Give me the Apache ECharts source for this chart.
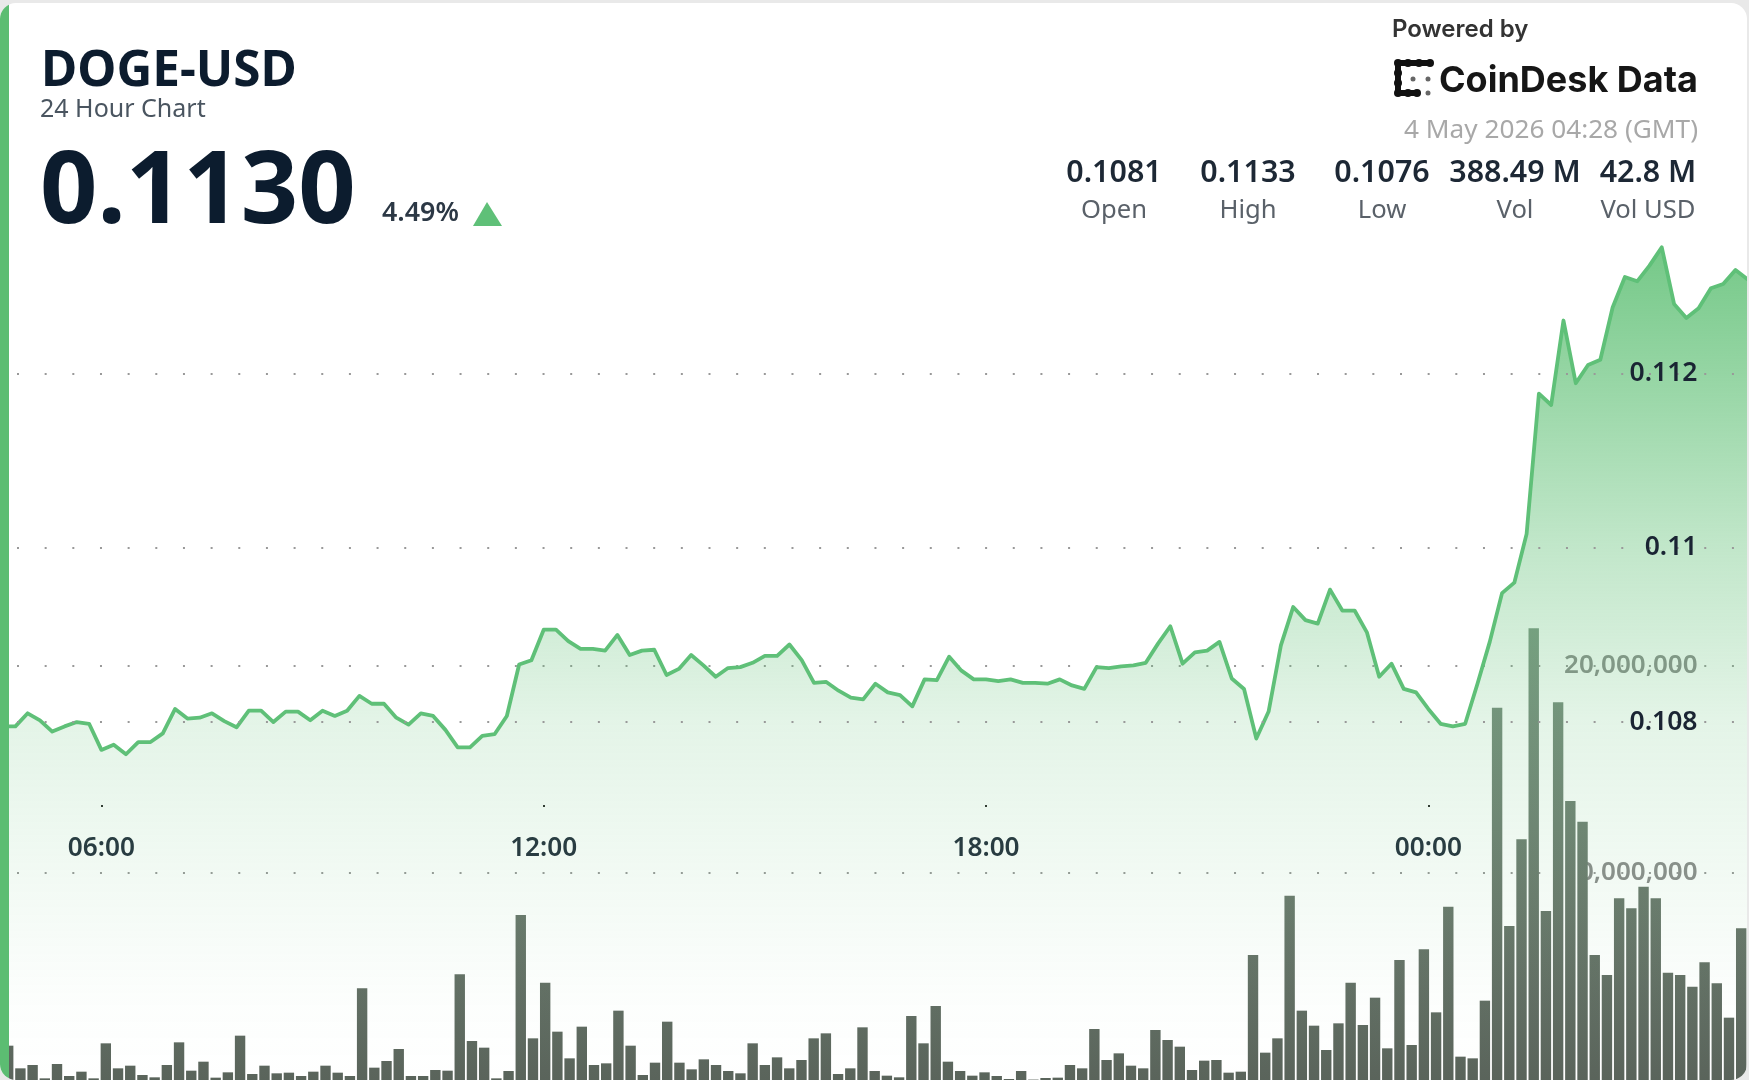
<!DOCTYPE html>
<html>
<head>
<meta charset="utf-8">
<style>
  html, body { margin: 0; height: 100%; background: #e9e9e9; overflow: hidden; }
  #card { position: absolute; left: 0; top: 3px; width: 1747px; height: 1077px; background: #fff;
          border-radius: 16px; overflow: hidden; }
  #chart { position: absolute; left: 0; top: -3px; width: 1749px; height: 1080px; }
</style>
</head>
<body>
<div id="card"><div id="chart"></div></div>
<script src="https://cdn.jsdelivr.net/npm/echarts@6/dist/echarts.min.js"></script>
<script>
// price every 10 minutes, first point is 04:40 of the previous day
const firstMinute = 280;
const priceValues = [
  0.10795, 0.10795, 0.10810, 0.10802, 0.10789, 0.10795, 0.10800, 0.10798, 0.10768, 0.10774, 0.10763, 0.10777,
  0.10777, 0.10787, 0.10815, 0.10804, 0.10805, 0.10810, 0.10801, 0.10794, 0.10813, 0.10813, 0.10800, 0.10812,
  0.10812, 0.10802, 0.10813, 0.10807, 0.10813, 0.10830, 0.10821, 0.10821, 0.10805, 0.10797, 0.10810, 0.10807,
  0.10791, 0.10771, 0.10771, 0.10784, 0.10786, 0.10807, 0.10866, 0.10871, 0.10906, 0.10906, 0.10893, 0.10884,
  0.10884, 0.10882, 0.10900, 0.10877, 0.10882, 0.10883, 0.10854, 0.10861, 0.10877, 0.10865, 0.10852, 0.10862,
  0.10863, 0.10868, 0.10876, 0.10876, 0.10889, 0.10871, 0.10845, 0.10846, 0.10836, 0.10828, 0.10826, 0.10844,
  0.10834, 0.10831, 0.10818, 0.10849, 0.10848, 0.10875, 0.10859, 0.10849, 0.10849, 0.10847, 0.10849, 0.10845,
  0.10845, 0.10844, 0.10849, 0.10842, 0.10838, 0.10863, 0.10862, 0.10864, 0.10865, 0.10868, 0.10890, 0.10910,
  0.10867, 0.10880, 0.10882, 0.10892, 0.10850, 0.10838, 0.10781, 0.10812, 0.10888, 0.10932, 0.10917, 0.10913,
  0.10952, 0.10928, 0.10928, 0.10903, 0.10852, 0.10867, 0.10838, 0.10834, 0.10815, 0.10798, 0.10795, 0.10798,
  0.10844, 0.10892, 0.10948, 0.10960, 0.11016, 0.11177, 0.11164, 0.11261, 0.11189, 0.11210, 0.11216, 0.11276,
  0.11311, 0.11306, 0.11324, 0.11345, 0.11280, 0.11264, 0.11275, 0.11298, 0.11303, 0.11319, 0.11308, 0.11300
];
// volume per bar, millions
const volumeValues = [
  1.656, 0.563, 0.724, 0.080, 0.772, 0.193, 0.402, 0.080, 1.769, 0.563, 0.691, 0.241, 0.129, 0.724, 1.817,
  0.450, 0.884, 0.113, 0.370, 2.139, 0.289, 0.691, 0.322, 0.354, 0.193, 0.402, 0.691, 0.354, 0.193, 4.422,
  0.595, 0.917, 1.495, 0.193, 0.193, 0.482, 0.450, 5.097, 1.881, 1.560, 0.080, 0.434, 7.960, 2.010, 4.695,
  2.332, 1.045, 2.573, 0.724, 0.804, 3.345, 1.656, 0.241, 0.836, 2.814, 0.836, 0.515, 0.997, 0.724, 0.434,
  0.322, 1.769, 0.724, 1.093, 0.563, 0.965, 2.010, 2.251, 0.289, 0.563, 2.541, 0.434, 0.209, 0.129, 3.087,
  1.769, 3.570, 0.884, 0.434, 0.209, 0.370, 0.193, 0.048, 0.434, 0.020, 0.096, 0.113, 0.724, 0.563, 2.460,
  0.965, 1.286, 0.691, 0.563, 2.412, 1.930, 1.608, 0.482, 0.933, 0.965, 0.354, 0.402, 6.030, 1.319, 2.010,
  8.892, 3.345, 2.621, 1.447, 2.734, 4.695, 2.653, 3.972, 1.528, 5.789, 1.688, 6.303, 3.264, 8.362, 1.126,
  1.045, 3.827, 17.961, 7.429, 11.610, 21.788, 8.153, 18.219, 13.459, 12.462, 6.030, 5.065, 8.764, 8.281,
  9.326, 8.764, 5.178, 5.065, 4.502, 5.676, 4.663, 3.007, 7.316
];
const priceTicks = [0.108, 0.11, 0.112];
const volumeTicks = [10000000, 20000000];
const timeTicks = [360, 720, 1080, 1440];
const statValues = ['0.1081', '0.1133', '0.1076', '388.49 M', '42.8 M'];
const statLabels = ['Open', 'High', 'Low', 'Vol', 'Vol USD'];
const statCenters = [1114, 1248, 1382, 1515, 1648];

const FONT = '"Noto Sans", "Open Sans", sans-serif';
const GREEN = '#5fc078';
const INK = '#0c1c2e';

const hhmm = (m) => {
  const h = Math.floor(m / 60) % 24;
  const mm = m % 60;
  return String(h).padStart(2, '0') + ':' + String(mm).padStart(2, '0');
};

const text = (x, y, str, size, weight, fill, align) => ({
  type: 'text',
  x: x,
  y: y,
  silent: true,
  style: { text: str, font: weight + ' ' + size + 'px ' + FONT, fill: fill, align: align || 'left', verticalAlign: 'middle' },
});

const dot = (x, y, r, fill) => ({ type: 'circle', shape: { cx: x, cy: y, r: r }, style: { fill: fill } });

// header, drawn on top of the plot
const header = [
  { type: 'rect', shape: { x: 0, y: 0, width: 9, height: 1080 }, style: { fill: '#5cbd72' }, z: 20 },
  text(41, 72, 'DOGE-USD', 49.5, 700, INK),
  text(40, 110, '24 Hour Chart', 25, 400, '#4a5560'),
  text(40, 194, '0.1130', 100.5, 700, INK),
  text(382, 213, '4.49%', 26.8, 600, '#2c3845'),
  { type: 'polygon', shape: { points: [[487, 202], [473, 226], [502, 226]] }, style: { fill: GREEN } },
  { type: 'text', x: 1392, y: 30, style: { text: 'Powered by', font: '600 24px Inter, sans-serif', fill: '#333', verticalAlign: 'middle' } },
  { type: 'text', x: 1698, y: 81, style: { text: 'CoinDesk Data', font: '700 36px Inter, sans-serif', fill: '#161616', align: 'right', verticalAlign: 'middle' } },
  // logo mark
  { type: 'rect', shape: { x: 1395, y: 62, width: 6, height: 32 }, style: { fill: '#111' } },
  { type: 'rect', shape: { x: 1395, y: 60, width: 35, height: 6 }, style: { fill: '#111' } },
  { type: 'rect', shape: { x: 1395, y: 90, width: 22, height: 6 }, style: { fill: '#111' } },
  dot(1398, 63, 4, '#111'), dot(1408, 63, 4, '#111'), dot(1419, 63, 4, '#111'), dot(1430, 63, 4, '#111'),
  dot(1398, 73, 4, '#111'), dot(1398, 83, 4, '#111'), dot(1398, 93, 4, '#111'),
  dot(1408, 93, 4, '#111'), dot(1417, 93, 4, '#111'),
  dot(1413, 79, 2.5, '#666'), dot(1428, 79, 2.5, '#666'), dot(1428, 93, 2.5, '#666'),
  text(1698, 131, '4 May 2026 04:28 (GMT)', 26.2, 400, '#a8a8a8', 'right'),
];
statValues.forEach((v, i) => {
  header.push(text(statCenters[i], 173, v, 30.4, 600, '#1d2835', 'center'));
  header.push(text(statCenters[i], 211, statLabels[i], 25.6, 400, '#5a6169', 'center'));
});

const chart = echarts.init(document.getElementById('chart'), null, { renderer: 'canvas' });

chart.setOption({
  animation: false,
  backgroundColor: 'transparent',
  grid: { left: 9, right: 0, top: 0, bottom: 0 },
  xAxis: [
    {
      // time axis of the price line, in minutes
      type: 'value',
      min: 284.8,
      max: 1701,
      offset: -275,
      splitLine: { show: false },
      axisLine: { show: false },
      axisTick: { show: true, length: 2, customValues: timeTicks, lineStyle: { color: '#2a2a2a', width: 2 } },
      axisLabel: {
        customValues: timeTicks,
        formatter: (v) => hhmm(v),
        margin: 31,
        fontFamily: FONT,
        fontSize: 26.2,
        fontWeight: 600,
        color: '#232e3c',
      },
    },
    {
      // bar slots, they run a little tighter than the time scale
      type: 'value',
      show: false,
      min: 0.066,
      max: 142.64,
      splitLine: { show: false },
    },
  ],
  yAxis: [
    {
      type: 'value',
      position: 'right',
      min: 0.10389,
      max: 0.11629,
      z: 5,
      axisLine: { show: false },
      axisTick: { show: false, customValues: priceTicks },
      splitLine: { show: true, lineStyle: { color: '#999', width: 2, type: [2, 25.66], dashOffset: 19.66 } },
      axisLabel: {
        inside: true,
        margin: 51.5,
        padding: [8, 0, 0, 0],
        customValues: priceTicks,
        formatter: (v) => String(v),
        fontFamily: FONT,
        fontSize: 26.5,
        fontWeight: 600,
        color: '#1a2433',
      },
    },
    {
      type: 'value',
      position: 'right',
      min: 0,
      max: 52100000,
      axisLine: { show: false },
      axisTick: { show: false, customValues: volumeTicks },
      splitLine: { show: true, lineStyle: { color: '#999', width: 2, type: [2, 25.66], dashOffset: 19.66 } },
      axisLabel: {
        inside: true,
        margin: 51.5,
        padding: [8, 0, 0, 0],
        customValues: volumeTicks,
        formatter: (v) => v.toLocaleString('en-US'),
        fontFamily: FONT,
        fontSize: 26,
        fontWeight: 600,
        color: '#8c8c8c',
      },
    },
  ],
  series: [
    {
      type: 'bar',
      xAxisIndex: 1,
      yAxisIndex: 1,
      barWidth: 10.4,
      z: 2,
      silent: true,
      itemStyle: {
        color: {
          type: 'linear', global: true, x: 0, y: 620, x2: 0, y2: 1080,
          colorStops: [{ offset: 0, color: '#7f9585' }, { offset: 0.6, color: '#6b786d' }, { offset: 1, color: '#5a645b' }],
        },
      },
      data: volumeValues.map((v, i) => [i, v * 1e6]),
    },
    {
      type: 'line',
      xAxisIndex: 0,
      yAxisIndex: 0,
      z: 3,
      silent: true,
      showSymbol: false,
      lineStyle: { color: GREEN, width: 3.8, join: 'round' },
      areaStyle: {
        origin: 'start',
        opacity: 1,
        color: {
          type: 'linear', x: 0, y: 0, x2: 0, y2: 1,
          colorStops: [
            { offset: 0, color: 'rgba(93,191,115,0.85)' },
            { offset: 0.36, color: 'rgba(93,191,115,0.38)' },
            { offset: 0.57, color: 'rgba(93,191,115,0.17)' },
            { offset: 0.76, color: 'rgba(93,191,115,0.08)' },
            { offset: 0.9, color: 'rgba(93,191,115,0.02)' },
            { offset: 1, color: 'rgba(93,191,115,0)' },
          ],
        },
      },
      data: priceValues.map((v, i) => [firstMinute + i * 10, v]),
    },
  ],
  graphic: header,
});
</script>
</body>
</html>
